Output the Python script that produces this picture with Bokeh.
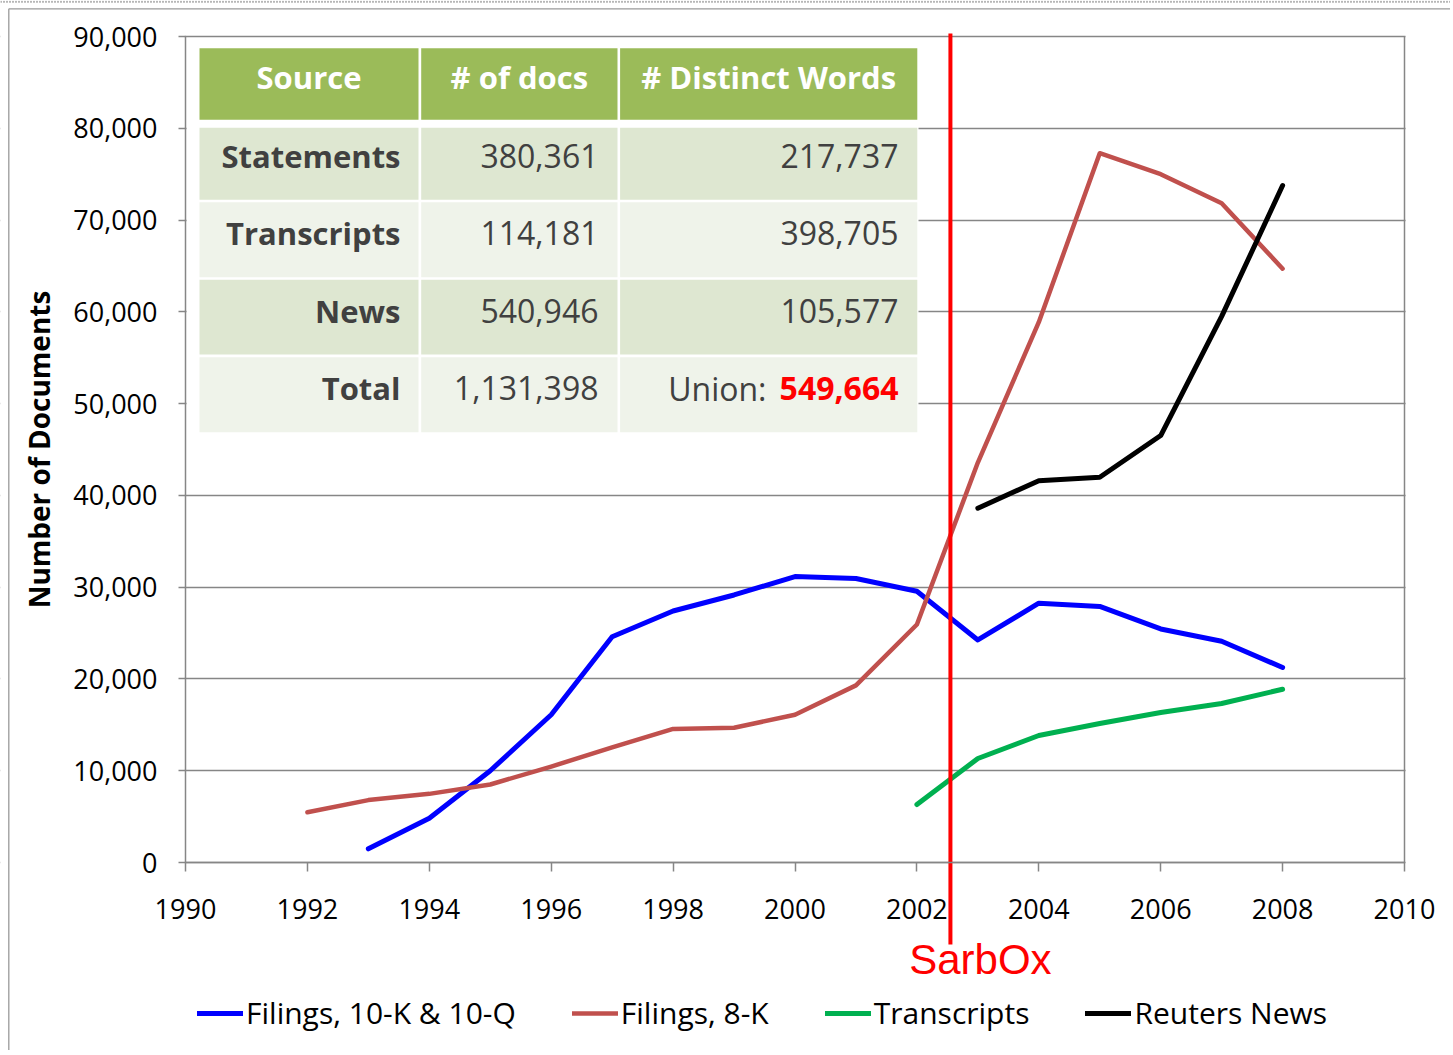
import math
from bokeh.plotting import figure
from bokeh.models import Range1d, FixedTicker, NumeralTickFormatter, Legend, LegendItem, LinearAxis
from bokeh.embed import file_html
from bokeh.resources import INLINE
from bokeh.core.properties import value

# ---------------- data ----------------
years_10kq = list(range(1993, 2009))
filings_10kq = [1490, 4830, 10000, 16100, 24600, 27400, 29150, 31150, 30950,
                29550, 24250, 28250, 27900, 25450, 24100, 21250]
years_8k = list(range(1992, 2009))
filings_8k = [5480, 6800, 7480, 8500, 10450, 12550, 14550, 14680, 16100,
              19300, 25930, 43580, 58870, 77280, 75000, 71830, 64700]
years_transcripts = list(range(2002, 2009))
transcripts = [6320, 11330, 13840, 15140, 16340, 17320, 18880]
years_news = list(range(2003, 2009))
reuters_news = [38600, 41600, 41970, 46520, 59500, 73760]
sarbox_year = 2002.55

series_names = ["Filings, 10-K & 10-Q", "Filings, 8-K", "Transcripts", "Reuters News"]
x_ticks = list(range(1990, 2011, 2))
y_ticks = list(range(0, 90001, 10000))
y_title = "Number of Documents"

table_header = ["Source", "# of docs", "# Distinct Words"]
table_sources = ["Statements", "Transcripts", "News", "Total"]
table_docs = ["380,361", "114,181", "540,946", "1,131,398"]
table_words = ["217,737", "398,705", "105,577"]
union_label = "Union:"
union_words = "549,664"

# ---------------- geometry (picture pixels -> data) ----------------
W, H = 1450, 1050
X0_PX, PX_PER_YEAR = 185, 60.95          # 1990 at x=185, 2010 at x=1404
Y0_PX, PX_PER_UNIT = 862, 826 / 90000    # 0 at y=862, 90,000 at y=36
BASE_FIX = 14                            # text baseline correction (px)


def xd(px):
    return 1990 + (px - X0_PX) / PX_PER_YEAR


def yd(py):
    return (Y0_PX - py) / PX_PER_UNIT


def yt(py):
    """data y for a text baseline wanted at picture row py"""
    return yd(py - BASE_FIX)


p = figure(width=W, height=H, output_backend="svg", toolbar_location=None,
           x_range=Range1d(xd(0), xd(W)), y_range=Range1d(yd(H), yd(0)),
           min_border_left=0, min_border_right=0, min_border_top=0, min_border_bottom=0)
p.outline_line_color = None
p.background_fill_color = "white"
p.border_fill_color = "white"

AX_COLOR = "#868686"

# y axis, fixed at 1990
p.yaxis.fixed_location = 1990
p.yaxis.bounds = (0, 90000)
p.yaxis.ticker = FixedTicker(ticks=y_ticks)
p.yaxis.formatter = NumeralTickFormatter(format="0,0")
p.yaxis.major_tick_out = 7
p.yaxis.major_tick_in = 0
p.yaxis.minor_tick_out = 0
p.yaxis.minor_tick_in = 0
p.yaxis.axis_line_color = AX_COLOR
p.yaxis.axis_line_width = 1.5
p.yaxis.major_tick_line_color = AX_COLOR
p.yaxis.major_tick_line_width = 1.5
p.yaxis.major_label_text_font = "Open Sans"
p.yaxis.major_label_text_font_size = "27px"
p.yaxis.major_label_text_color = "black"
p.yaxis.major_label_standoff = 21

# x axis, fixed at y = 0
p.xaxis.fixed_location = 0
p.xaxis.bounds = (1990, 2010)
p.xaxis.ticker = FixedTicker(ticks=x_ticks)
p.xaxis.formatter = NumeralTickFormatter(format="0")
p.xaxis.major_tick_out = 9
p.xaxis.major_tick_in = 0
p.xaxis.minor_tick_out = 0
p.xaxis.minor_tick_in = 0
p.xaxis.axis_line_color = AX_COLOR
p.xaxis.axis_line_width = 1.5
p.xaxis.major_tick_line_color = AX_COLOR
p.xaxis.major_tick_line_width = 1.5
p.xaxis.major_label_text_font = "Open Sans"
p.xaxis.major_label_text_font_size = "27px"
p.xaxis.major_label_text_color = "black"
p.xaxis.major_label_standoff = 27

# right border of the plot area
right_axis = LinearAxis(fixed_location=2010, bounds=(0, 90000),
                        ticker=FixedTicker(ticks=[]), major_tick_out=0, major_tick_in=0,
                        minor_tick_out=0, minor_tick_in=0,
                        major_label_text_font_size="0px",
                        axis_line_color=AX_COLOR, axis_line_width=1.5)
p.add_layout(right_axis, "right")

p.xgrid.visible = False
p.ygrid.grid_line_color = AX_COLOR
p.ygrid.grid_line_width = 1.3

# keep the grid inside the plot area (mask the page margins)
p.quad(left=[xd(0), xd(1405)], right=[xd(184.3), xd(W)],
       bottom=[yd(H), yd(H)], top=[yd(0), yd(0)], fill_color="white", line_color=None)

# slide frame lines
p.segment(x0=[xd(0)], x1=[xd(W)], y0=[yd(1.2)], y1=[yd(1.2)],
          line_color="#6f6f6f", line_width=2, line_dash="1 2")
p.segment(x0=[xd(8.3), xd(8.3)], x1=[xd(W), xd(8.3)], y0=[yd(8.3), yd(8.3)], y1=[yd(8.3), yd(H)],
          line_color="#9a9a9a", line_width=1.3)

# y axis title
p.text(x=[xd(38)], y=[45000], text=[y_title], angle=math.pi / 2,
       text_font=value("Open Sans"), text_font_style="bold", text_font_size="28px",
       text_color="black", text_align="center", text_baseline="middle")

# ---------------- table ----------------
TXT = "#404040"
p.quad(left=[xd(186)], right=[xd(918)], bottom=[yd(436)], top=[yd(40)],
       fill_color="white", line_color=None)

col_edges = [(199, 418), (420.7, 617), (619.6, 916.8)]
row_edges = [(47.7, 119.3), (127.3, 199.3), (201.7, 276.7), (279.3, 354), (356.7, 431.7)]
row_fill = ["#9BBB59", "#DEE7D1", "#EFF3EA", "#DEE7D1", "#EFF3EA"]
ql, qr, qb, qt, qc = [], [], [], [], []
for (rt, rb), fc in zip(row_edges, row_fill):
    for (cl, cr) in col_edges:
        ql.append(xd(cl)); qr.append(xd(cr)); qb.append(yd(rb)); qt.append(yd(rt)); qc.append(fc)
p.quad(left=ql, right=qr, bottom=qb, top=qt, fill_color=qc, line_color=None)

hx = [xd((cl + cr) / 2) for cl, cr in col_edges]
p.text(x=hx, y=[yt(row_edges[0][1] - 28.5)] * 3, text=table_header,
       text_font=value("Open Sans"), text_font_style="bold", text_font_size="31px",
       text_color="white", text_align="center", text_baseline="alphabetic")

row_base = [yt(rb - 30) for (rt, rb) in row_edges[1:]]
p.text(x=[xd(400)] * 4, y=row_base, text=table_sources,
       text_font=value("Open Sans"), text_font_style="bold", text_font_size="31px",
       text_color=TXT, text_align="right", text_baseline="alphabetic")
p.text(x=[xd(598)] * 4, y=row_base, text=table_docs,
       text_font=value("Open Sans"), text_font_size="32px",
       text_color=TXT, text_align="right", text_baseline="alphabetic")
p.text(x=[xd(898)] * 3, y=row_base[:3], text=table_words,
       text_font=value("Open Sans"), text_font_size="32px",
       text_color=TXT, text_align="right", text_baseline="alphabetic")
p.text(x=[xd(766)], y=[row_base[3]], text=[union_label],
       text_font=value("Open Sans"), text_font_size="32px",
       text_color=TXT, text_align="right", text_baseline="alphabetic")
p.text(x=[xd(898)], y=[row_base[3]], text=[union_words],
       text_font=value("Open Sans"), text_font_style="bold", text_font_size="32px",
       text_color="#FF0000", text_align="right", text_baseline="alphabetic")

# ---------------- series ----------------
r1 = p.line(years_10kq, filings_10kq, line_color="#0000FF", line_width=5,
            line_cap="round", line_join="round")
r2 = p.line(years_8k, filings_8k, line_color="#C0504D", line_width=4.5,
            line_cap="round", line_join="round")
r3 = p.line(years_transcripts, transcripts, line_color="#00B050", line_width=5,
            line_cap="round", line_join="round")
r4 = p.line(years_news, reuters_news, line_color="#000000", line_width=5,
            line_cap="round", line_join="round")

# SarbOx marker
p.segment(x0=[sarbox_year], x1=[sarbox_year], y0=[yd(944)], y1=[yd(33)],
          line_color="#FF0000", line_width=4)
p.text(x=[sarbox_year], y=[yt(973)], x_offset=30, text=["SarbOx"],
       text_font=value("Liberation Sans"), text_font_size="42px",
       text_color="#FF0000", text_align="center", text_baseline="alphabetic")

legend = Legend(items=[LegendItem(label=n, renderers=[r])
                       for n, r in zip(series_names, [r1, r2, r3, r4])],
                orientation="horizontal", location=(197, H - 1013 - 20),
                glyph_width=46, glyph_height=40, label_height=40, label_standoff=3,
                spacing=56, padding=0, margin=0, border_line_color=None,
                background_fill_alpha=0, label_text_font="Open Sans",
                label_text_font_size="30px", label_text_color="black")
p.add_layout(legend, "center")

open("out.html", "w").write(file_html(p, INLINE))
